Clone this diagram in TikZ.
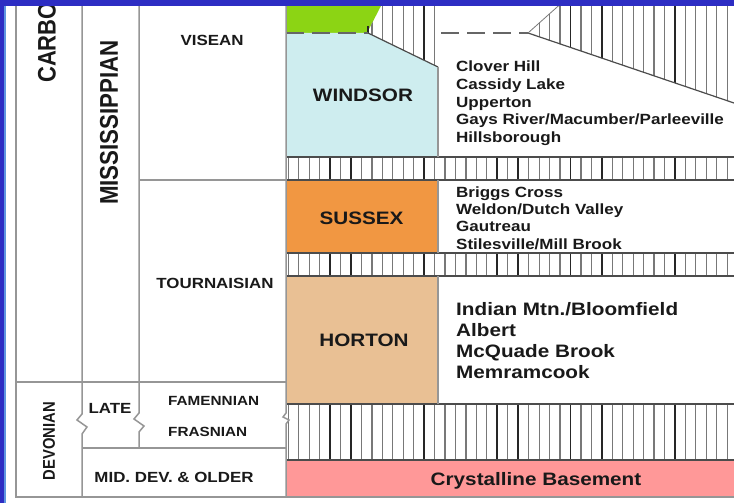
\documentclass[tikz,border=0pt]{standalone}
\usepackage{fontspec}
\usepackage{graphicx}
\usetikzlibrary{calc}
\setmainfont[FakeStretch=1.15]{Liberation Sans}
\newfontfamily\rotfont{Liberation Sans}
\definecolor{FrameBlue}{RGB}{45,45,195}
\definecolor{EdgeBlue}{RGB}{95,150,225}
\definecolor{Ink}{RGB}{25,25,25}
\definecolor{RuleGray}{RGB}{150,150,150}
\definecolor{HatchGray}{RGB}{120,120,120}
\definecolor{LimeGreen}{RGB}{140,212,20}
\definecolor{WindsorCyan}{RGB}{206,237,239}
\definecolor{SussexOrange}{RGB}{241,151,66}
\definecolor{HortonTan}{RGB}{233,192,148}
\definecolor{BasementPink}{RGB}{255,152,152}
\newcommand{\tallbox}[1]{\scalebox{1}[1.15]{#1}}
\tikzset{
  lbl/.style={inner sep=0pt,text=Ink},
  slbl/.style={lbl,font=\fontsize{14.7}{17}\selectfont\bfseries},
  famlbl/.style={lbl,anchor=west,font=\fontsize{13.3}{16}\selectfont\bfseries},
  flbl/.style={lbl,font=\fontsize{18}{21}\selectfont\bfseries},
  mlbl/.style={lbl,anchor=base west,font=\fontsize{14.8}{17}\selectfont\bfseries},
  mlblbig/.style={lbl,anchor=base west,font=\fontsize{18}{21}\selectfont\bfseries},
  rlbl/.style={lbl,rotate=90},
  tline/.style={draw=RuleGray,line width=1.5pt},
  sline/.style={draw=black!70,line width=1.2pt},
  hline/.style={draw=HatchGray,line width=1.2pt},
  hbold/.style={draw=black!85,line width=1.8pt},
  dline/.style={draw=black!60,line width=1.6pt,dash pattern=on 18pt off 8pt},
}

\begin{document}
\begin{tikzpicture}[x=1pt,y=-1pt]
  \useasboundingbox (0,0) rectangle (734,503);
  \fill[white] (0,0) rectangle (734,503);

  % formation fills
  \fill[LimeGreen] (286,0) -- (384,0) -- (368,31) -- (368,33) -- (286,33) -- cycle;
  \fill[WindsorCyan] (286,33) -- (368,33) -- (438,67) -- (438,157) -- (286,157) -- cycle;
  \fill[SussexOrange] (286,180) rectangle (438,253);
  \fill[HortonTan] (286,276) rectangle (438,404);
  \fill[BasementPink] (286,460) rectangle (734,497);

  % hatched gaps
  \begin{scope}
    \clip (286,157) rectangle (734,180)
          (286,253) rectangle (734,276)
          (286,404) rectangle (734,460)
          (384,0) -- (438,0) -- (438,67) -- (368,33) -- (368,31) -- cycle
          (528,33) -- (565,0) -- (734,0) -- (734,103) -- cycle;
    \foreach \k in {0,...,43}
      \draw[hline] ({288.3+10.45*\k},0) -- ({288.3+10.45*\k},503);
    \foreach \k in {4,6,13,20,22,27,30,37}
      \draw[hbold] ({288.3+10.45*\k},0) -- ({288.3+10.45*\k},503);
  \end{scope}
  \draw[hbold] (368,26) -- (368,33);

  \draw[sline] (286,157) -- (734,157) (286,180) -- (734,180)
               (286,253) -- (734,253) (286,276) -- (734,276)
               (286,404) -- (734,404) (286,460) -- (734,460);
  \draw[sline] (368,33) -- (438,67);
  \draw[sline] (528,33) -- (734,103);
  \draw[hline, line width=0.8pt] (528,33) -- (565,0);
  \draw[dline] (286,33) -- (368,33);
  \draw[dline] (441,33) -- (528,33);

  % table rules
  \draw[tline] (16,6) -- (16,497) -- (734,497);
  \draw[tline] (82,6) -- (82,414) -- (77,420) -- (87,427) -- (82,434) -- (82,497);
  \draw[tline] (139,6) -- (139,413) -- (134,419) -- (144,426) -- (139,432) -- (139,448);
  \draw[tline] (286,6) -- (286,413) -- (283,417) -- (289,420) -- (286,424) -- (286,497);
  \draw[tline] (139,180) -- (286,180);
  \draw[tline] (16,382) -- (286,382);
  \draw[tline] (82,448) -- (286,448);
  \draw[tline] (438,67) -- (438,157) (438,180) -- (438,253) (438,276) -- (438,404);

  % time scale
  \node[rlbl, anchor=west, font=\rotfont\fontsize{22}{22}\selectfont\bfseries] (carb) at (47,83) {\tallbox{CARBONIFEROUS}};
  \node[rlbl, font=\rotfont\fontsize{22.3}{22}\selectfont\bfseries] (miss) at (109,122.5) {\tallbox{MISSISSIPPIAN}};
  \node[rlbl, font=\rotfont\fontsize{14.8}{15}\selectfont\bfseries] (dev) at (49,441) {\tallbox{DEVONIAN}};
  \node[slbl] (visean) at (212,40) {VISEAN};
  \node[slbl] (tourn) at (215,283) {TOURNAISIAN};
  \node[slbl] (late) at (110,408.5) {LATE};
  \node[famlbl] (famen) at (168,401) {FAMENNIAN};
  \node[famlbl] (frasn) at (168,431.5) {FRASNIAN};
  \node[slbl] (middev) at (174,477.5) {MID. DEV. \& OLDER};

  % formations
  \node[flbl] (windsor) at (363,95) {WINDSOR};
  \node[flbl] (sussex) at (361.5,218) {SUSSEX};
  \node[flbl] (horton) at (364,340) {HORTON};
  \node[flbl, anchor=base] (basement) at (536,485) {Crystalline Basement};

  % members
  \node[mlbl] (w1) at (456,72) {Clover Hill};
  \node[mlbl] (w2) at (456,89.5) {Cassidy Lake};
  \node[mlbl] (w3) at (456,107) {Upperton};
  \node[mlbl] (w4) at (456,124.5) {Gays River/Macumber/Parleeville};
  \node[mlbl] (w5) at (456,142) {Hillsborough};
  \node[mlbl] (s1) at (456,197) {Briggs Cross};
  \node[mlbl] (s2) at (456,214.3) {Weldon/Dutch Valley};
  \node[mlbl] (s3) at (456,231.6) {Gautreau};
  \node[mlbl] (s4) at (456,249) {Stilesville/Mill Brook};
  \node[mlblbig] (h1) at (456,315) {Indian Mtn./Bloomfield};
  \node[mlblbig] (h2) at (456,336) {Albert};
  \node[mlblbig] (h3) at (456,357) {McQuade Brook};
  \node[mlblbig] (h4) at (456,378) {Memramcook};

  % slide frame
  \fill[FrameBlue] (0,0) rectangle (734,6);
  \fill[FrameBlue] (0,0) rectangle (3.5,503);
  \fill[EdgeBlue] (3.5,6) rectangle (6,503);
\end{tikzpicture}
\end{document}
